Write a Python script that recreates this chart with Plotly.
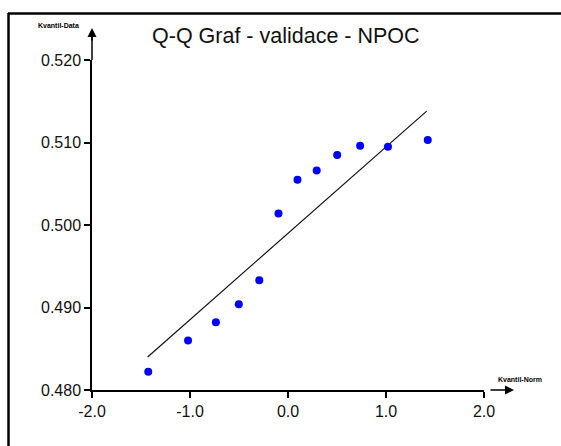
import plotly.graph_objects as go

# Data
norm_quantiles = [-1.426, -1.020, -0.736, -0.502, -0.293, -0.097,
                  0.097, 0.293, 0.502, 0.736, 1.020, 1.426]
data_quantiles = [0.4822, 0.4860, 0.4882, 0.4904, 0.4933, 0.5014,
                  0.5055, 0.5066, 0.5085, 0.5096, 0.5095, 0.5103]
line_x = [-1.432, 1.415]
line_y = [0.4840, 0.5138]

x_ticks = [-2.0, -1.0, 0.0, 1.0, 2.0]
x_tick_text = ["-2.0", "-1.0", "0.0", "1.0", "2.0"]
y_ticks = [0.480, 0.490, 0.500, 0.510, 0.520]
y_tick_text = ["0.480", "0.490", "0.500", "0.510", "0.520"]

title_text = "Q-Q Graf - validace - NPOC"
x_label = "Kvantil-Norm"
y_label = "Kvantil-Data"

FONT = "Liberation Sans Narrow, Arial Narrow, Liberation Sans, Arial, sans-serif"

W, H = 561, 446
L, R, T, B = 92, 77, 60, 56  # plot area: x 92..484, y 60..390
pw = W - L - R
ph = H - T - B

fig = go.Figure()
fig.add_trace(go.Scatter(x=line_x, y=line_y, mode="lines",
                         line=dict(color="#111111", width=1.2),
                         hoverinfo="skip", showlegend=False))
fig.add_trace(go.Scatter(x=norm_quantiles, y=data_quantiles, mode="markers",
                         marker=dict(color="#0000FF", size=8),
                         showlegend=False))

def px_to_paper_x(px):
    return (px - L) / pw

def px_to_paper_y(py):
    return (H - B - py) / ph

shapes = [
    # outer frame (top and left visible)
    dict(type="line", xref="paper", yref="paper",
         x0=px_to_paper_x(8), x1=px_to_paper_x(600),
         y0=px_to_paper_y(13.5), y1=px_to_paper_y(13.5),
         line=dict(color="black", width=2.5)),
    dict(type="line", xref="paper", yref="paper",
         x0=px_to_paper_x(8.5), x1=px_to_paper_x(8.5),
         y0=px_to_paper_y(13), y1=px_to_paper_y(460),
         line=dict(color="black", width=2.5)),
    # y-axis extension up to arrow
    dict(type="line", xref="paper", yref="paper",
         x0=0, x1=0, y0=1, y1=px_to_paper_y(32),
         line=dict(color="black", width=1.5)),
]

annotations = [
    dict(text=title_text, xref="paper", yref="paper",
         x=px_to_paper_x(286), y=px_to_paper_y(36), xanchor="center", yanchor="middle",
         showarrow=False, font=dict(family=FONT, size=21.5, color="#111111")),
    # y axis arrow
    dict(text="", xref="paper", yref="paper",
         x=0, y=px_to_paper_y(28), ax=0, ay=14,
         showarrow=True, arrowhead=2, arrowsize=1.2, arrowwidth=1.5, arrowcolor="black"),
    # x axis arrow
    dict(text="", xref="paper", yref="paper",
         x=px_to_paper_x(514), y=0, ax=-25, ay=0,
         showarrow=True, arrowhead=2, arrowsize=1.2, arrowwidth=1.5, arrowcolor="black"),
    dict(text="<b>" + y_label + "</b>", xref="paper", yref="paper",
         x=px_to_paper_x(58), y=px_to_paper_y(25), xanchor="center", yanchor="middle",
         showarrow=False, font=dict(family=FONT, size=7, color="black")),
    dict(text="<b>" + x_label + "</b>", xref="paper", yref="paper",
         x=px_to_paper_x(520), y=px_to_paper_y(379), xanchor="center", yanchor="middle",
         showarrow=False, font=dict(family=FONT, size=7, color="black")),
]

fig.update_layout(
    width=W, height=H,
    margin=dict(l=L, r=R, t=T, b=B),
    paper_bgcolor="white", plot_bgcolor="white",
    shapes=shapes, annotations=annotations,
    xaxis=dict(range=[-2.0, 2.0], tickvals=x_ticks, ticktext=x_tick_text,
               showgrid=False, zeroline=False, showline=True, linecolor="black",
               linewidth=1.5, ticks="outside", ticklen=6, tickwidth=1.5,
               tickcolor="black", tickfont=dict(family=FONT, size=16, color="#111111")),
    yaxis=dict(range=[0.480, 0.520], tickvals=y_ticks, ticktext=y_tick_text,
               showgrid=False, zeroline=False, showline=True, linecolor="black",
               linewidth=1.5, ticks="outside", ticklen=6, tickwidth=1.5,
               tickcolor="black", tickfont=dict(family=FONT, size=16, color="#111111")),
)

fig.write_html("out.html")
